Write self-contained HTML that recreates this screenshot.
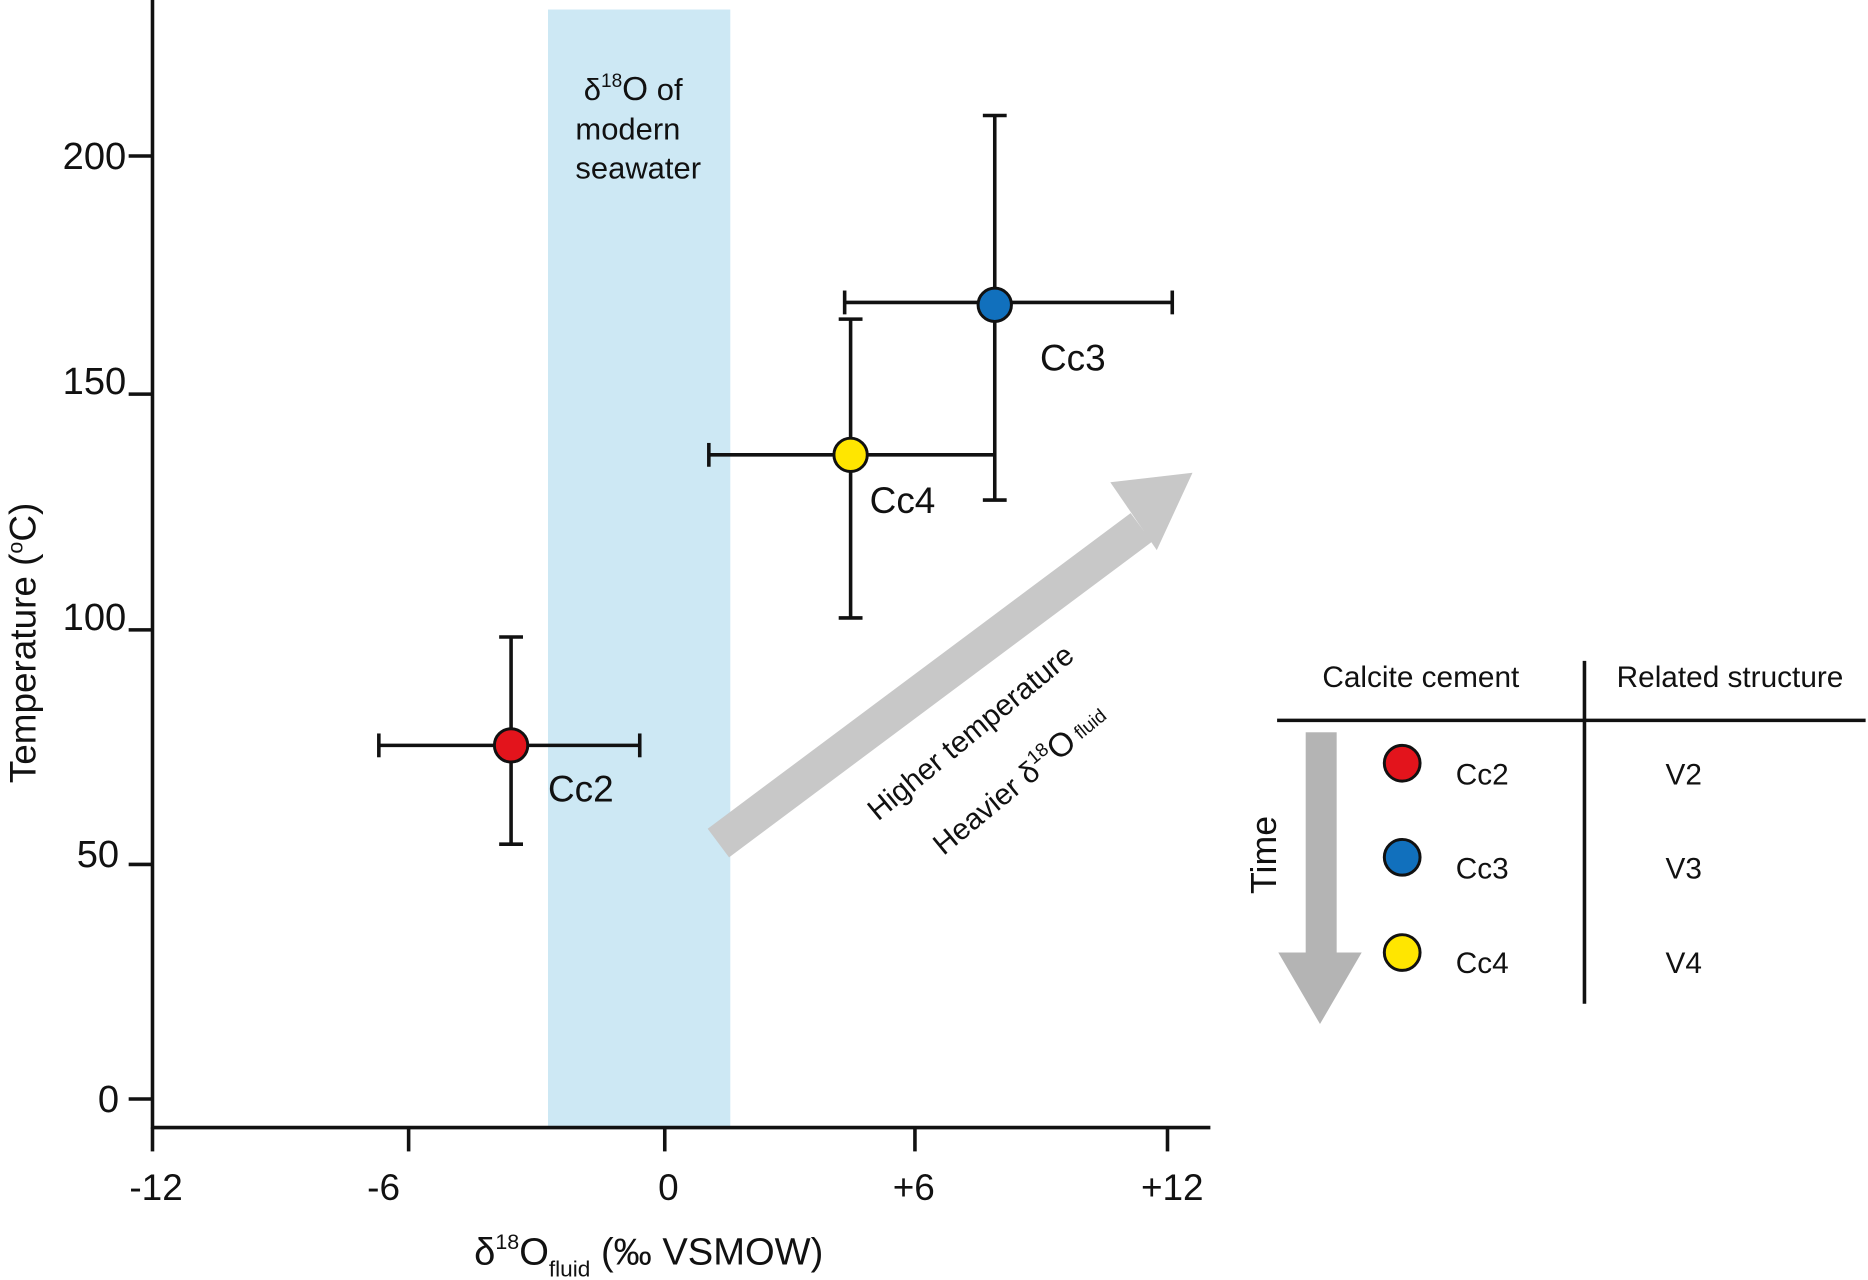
<!DOCTYPE html>
<html><head><meta charset="utf-8"><style>
html,body{margin:0;padding:0;background:#fff;}
svg{display:block;}
text{font-family:"Liberation Sans",Arial,sans-serif;fill:#111;}
</style></head><body>
<svg width="1868" height="1280" viewBox="0 0 1568 1075" preserveAspectRatio="none" xmlns="http://www.w3.org/2000/svg">
<rect x="460" y="8" width="153" height="939" fill="#cde8f4"/>
<g stroke="#111" stroke-width="3" fill="none">
<line x1="128" y1="0" x2="128" y2="948"/>
<line x1="127" y1="947" x2="1016" y2="947"/>
<line x1="108" y1="923" x2="128" y2="923"/>
<line x1="108" y1="726" x2="128" y2="726"/>
<line x1="108" y1="529" x2="128" y2="529"/>
<line x1="108" y1="331" x2="128" y2="331"/>
<line x1="108" y1="131" x2="128" y2="131"/>
<line x1="128" y1="947" x2="128" y2="967"/>
<line x1="343" y1="947" x2="343" y2="967"/>
<line x1="558" y1="947" x2="558" y2="967"/>
<line x1="768" y1="947" x2="768" y2="967"/>
<line x1="980" y1="947" x2="980" y2="967"/>
</g>
<g font-size="32" text-anchor="end">
<text x="100" y="934">0</text>
<text x="100" y="728">50</text>
<text x="106" y="529">100</text>
<text x="106" y="331">150</text>
<text x="106" y="142">200</text>
</g>
<g font-size="31" text-anchor="middle">
<text x="131" y="1008">-12</text>
<text x="322" y="1008">-6</text>
<text x="561" y="1008">0</text>
<text x="767" y="1008">+6</text>
<text x="984" y="1008">+12</text>
</g>
<text x="398" y="1062" font-size="32">δ<tspan font-size="18" dy="-13">18</tspan><tspan dy="13">O</tspan><tspan font-size="19" dy="10">fluid</tspan><tspan dy="-10"> (‰ VSMOW)</tspan></text>
<text transform="translate(30,540) rotate(-90)" font-size="31" text-anchor="middle">Temperature (<tspan font-size="18" dy="-11">o</tspan><tspan dy="11">C)</tspan></text>
<g font-size="26">
<text x="490" y="84">δ<tspan font-size="16" dy="-11">18</tspan><tspan dy="11" font-size="28">O</tspan> of</text>
<text x="483" y="117">modern</text>
<text x="483" y="150">seawater</text>
</g>
<g stroke="#111" stroke-width="3" fill="none">
<line x1="318" y1="626" x2="537" y2="626"/><line x1="318" y1="616" x2="318" y2="636"/><line x1="537" y1="616" x2="537" y2="636"/>
<line x1="429" y1="535" x2="429" y2="709"/><line x1="419" y1="535" x2="439" y2="535"/><line x1="419" y1="709" x2="439" y2="709"/>
<line x1="709" y1="254" x2="984" y2="254"/><line x1="709" y1="244" x2="709" y2="264"/><line x1="984" y1="244" x2="984" y2="264"/>
<line x1="835" y1="97" x2="835" y2="420"/><line x1="825" y1="97" x2="845" y2="97"/><line x1="825" y1="420" x2="845" y2="420"/>
<line x1="595" y1="382" x2="835" y2="382"/><line x1="595" y1="372" x2="595" y2="392"/>
<line x1="714" y1="268" x2="714" y2="519"/><line x1="704" y1="268" x2="724" y2="268"/><line x1="704" y1="519" x2="724" y2="519"/>
</g>
<g stroke="#111" stroke-width="2.5">
<circle cx="429" cy="626" r="14" fill="#e3141c"/>
<circle cx="835" cy="256" r="14" fill="#1170bd"/>
<circle cx="714" cy="382" r="14" fill="#ffe600"/>
</g>
<g font-size="31">
<text x="873" y="311">Cc3</text>
<text x="730" y="431">Cc4</text>
<text x="460" y="673">Cc2</text>
</g>
<line x1="603" y1="708" x2="958" y2="443" stroke="#c8c8c8" stroke-width="30"/>
<polygon points="932,405 1001,397 971,462" fill="#c8c8c8"/>
<g font-size="25">
<text transform="translate(737,690) rotate(-39.5)">Higher temperature</text>
<text transform="translate(792,719) rotate(-39.5)">Heavier δ<tspan font-size="16" dy="-11">18</tspan><tspan dy="11" font-size="28">O</tspan><tspan font-size="16" dy="-2"> fluid</tspan></text>
</g>
<g stroke="#111" stroke-width="3">
<line x1="1072" y1="605" x2="1566" y2="605"/>
<line x1="1330" y1="555" x2="1330" y2="843"/>
</g>
<g font-size="25">
<text x="1110" y="577">Calcite cement</text>
<text x="1357" y="577">Related structure</text>
<text x="1222" y="659">Cc2</text><text x="1398" y="659">V2</text>
<text x="1222" y="738">Cc3</text><text x="1398" y="738">V3</text>
<text x="1222" y="817">Cc4</text><text x="1398" y="817">V4</text>
</g>
<g stroke="#111" stroke-width="2.5">
<circle cx="1177" cy="641" r="15" fill="#e3141c"/>
<circle cx="1177" cy="720" r="15" fill="#1170bd"/>
<circle cx="1177" cy="800" r="15" fill="#ffe600"/>
</g>
<rect x="1096" y="615" width="26" height="187" fill="#b4b4b4"/>
<polygon points="1073,800 1143,800 1108,860" fill="#b4b4b4"/>
<text transform="translate(1071,718) rotate(-90)" font-size="30" text-anchor="middle">Time</text>
</svg>
</body></html>
